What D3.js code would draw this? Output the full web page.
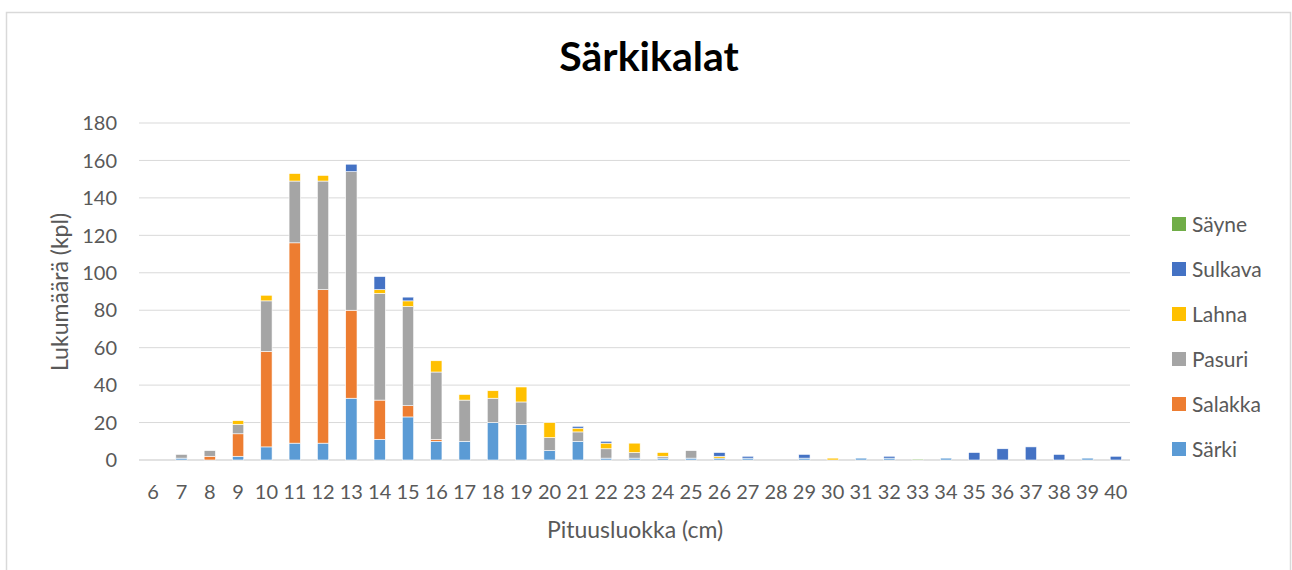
<!DOCTYPE html>
<html>
<head>
<meta charset="utf-8">
<script src="https://cdn.jsdelivr.net/npm/d3@7"></script>
<style>
  body { margin: 0; background: #fff; }
  text { font-family: Lato, "Open Sans", sans-serif; }
</style>
</head>
<body>
<svg id="chart" width="1292" height="570"></svg>
<script>
// length classes (cm)
var classes = d3.range(6, 41);
var seriesNames = ["Särki", "Salakka", "Pasuri", "Lahna", "Sulkava", "Säyne"];
var seriesColors = ["#5B9BD5", "#ED7D31", "#A5A5A5", "#FFC000", "#4472C4", "#70AD47"];

//            6  7  8  9  10  11  12  13  14  15  16  17  18  19  20  21 22 23 24 25 26 27 28 29 30 31 32 33 34 35 36 37 38 39 40
var sarki   = [0, 1, 0, 2, 7,  9,  9,  33, 11, 23, 10, 10, 20, 19, 5,  10, 1, 1, 1, 1, 1, 1, 0, 1, 0, 1, 1, 0, 1, 0, 0, 0, 0, 1, 0];
var salakka = [0, 0, 2, 12, 51, 107, 82, 47, 21, 6, 1, 0,  0,  0,  0,  0,  0, 0, 0, 0, 0, 0, 0, 0, 0, 0, 0, 0, 0, 0, 0, 0, 0, 0, 0];
var pasuri  = [0, 2, 3, 5, 27, 33, 58, 74, 57, 53, 36, 22, 13, 12, 7,  5,  5, 3, 1, 4, 0, 0, 0, 0, 0, 0, 0, 0, 0, 0, 0, 0, 0, 0, 0];
var lahna   = [0, 0, 0, 2, 3,  4,  3,  0,  2,  3,  6,  3,  4,  8,  8,  2,  3, 5, 2, 0, 1, 0, 0, 0, 1, 0, 0, 0, 0, 0, 0, 0, 0, 0, 0];
var sulkava = [0, 0, 0, 0, 0,  0,  0,  4,  7,  2,  0,  0,  0,  0,  0,  1,  1, 0, 0, 0, 2, 1, 0, 2, 0, 0, 1, 0, 0, 4, 6, 7, 3, 0, 2];
var sayne   = [0, 0, 0, 0, 0,  0,  0,  0,  0,  0,  0,  0,  0,  0,  0,  0,  0, 0, 0, 0, 0, 0, 0, 0, 0, 0, 0, 0.5, 0, 0, 0, 0, 0, 0, 0];
var yTicks = [0, 20, 40, 60, 80, 100, 120, 140, 160, 180];

var values = [sarki, salakka, pasuri, lahna, sulkava, sayne];
var rows = classes.map(function (c, i) {
  var r = { cls: c };
  seriesNames.forEach(function (s, k) { r[s] = values[k][i]; });
  return r;
});

var svg = d3.select("#chart");
var plotL = 139, plotR = 1130, plotT = 123, plotB = 460;

// chart frame
svg.append("rect")
  .attr("x", 6.5).attr("y", 12.5)
  .attr("width", 1284).attr("height", 600)
  .attr("fill", "#fff")
  .attr("stroke", "#d9d9d9").attr("stroke-width", 1.5);

var x = d3.scaleBand().domain(classes).range([plotL, plotR]).padding(0);
var y = d3.scaleLinear().domain([0, 180]).range([plotB, plotT]);
var barW = x.bandwidth() * 0.4;

// gridlines
svg.append("g")
  .selectAll("line")
  .data(yTicks)
  .enter()
  .append("line")
  .attr("x1", plotL).attr("x2", plotR)
  .attr("y1", function (d) { return y(d); })
  .attr("y2", function (d) { return y(d); })
  .attr("stroke", "#d9d9d9")
  .attr("stroke-width", function (d) { return d === 0 ? 1.5 : 1; });

// y tick labels
svg.append("g")
  .selectAll("text")
  .data(yTicks)
  .enter()
  .append("text")
  .attr("x", 117)
  .attr("y", function (d) { return y(d); })
  .attr("dy", "0.36em")
  .attr("text-anchor", "end")
  .attr("fill", "#595959")
  .style("font-size", "20px")
  .text(function (d) { return d; });

// x tick labels
svg.append("g")
  .selectAll("text")
  .data(classes)
  .enter()
  .append("text")
  .attr("x", function (d) { return x(d) + x.bandwidth() / 2; })
  .attr("y", 499)
  .attr("text-anchor", "middle")
  .attr("fill", "#595959")
  .style("font-size", "20px")
  .text(function (d) { return d; });

// stacked bars
var stack = d3.stack().keys(seriesNames)(rows);
svg.append("g")
  .selectAll("g")
  .data(stack)
  .enter()
  .append("g")
  .attr("fill", function (d, i) { return seriesColors[i]; })
  .selectAll("rect")
  .data(function (d) { return d.filter(function (p) { return p[1] > p[0]; }); })
  .enter()
  .append("rect")
  .attr("x", function (d) { return x(d.data.cls) + (x.bandwidth() - barW) / 2; })
  .attr("width", barW)
  .attr("y", function (d) { return y(d[1]); })
  .attr("height", function (d) { return y(d[0]) - y(d[1]); })
  .attr("stroke", "#fff")
  .attr("stroke-width", 0.6);

// title
svg.append("text")
  .attr("x", 649).attr("y", 71)
  .attr("text-anchor", "middle")
  .attr("fill", "#000")
  .style("font-size", "41px")
  .style("font-weight", "bold")
  .text("Särkikalat");

// axis titles
svg.append("text")
  .attr("x", 635).attr("y", 538)
  .attr("text-anchor", "middle")
  .attr("fill", "#595959")
  .style("font-size", "23px")
  .text("Pituusluokka (cm)");

svg.append("text")
  .attr("transform", "translate(68,292) rotate(-90)")
  .attr("text-anchor", "middle")
  .attr("fill", "#595959")
  .style("font-size", "23px")
  .text("Lukumäärä (kpl)");

// legend (top-down reversed)
var legend = svg.append("g")
  .selectAll("g")
  .data(seriesNames.slice().reverse())
  .enter()
  .append("g")
  .attr("transform", function (d, i) { return "translate(1172," + (224 + i * 45) + ")"; });

legend.append("rect")
  .attr("x", 0).attr("y", -7)
  .attr("width", 14).attr("height", 14)
  .attr("fill", function (d) { return seriesColors[seriesNames.indexOf(d)]; });

legend.append("text")
  .attr("x", 20).attr("y", 0)
  .attr("dy", "0.36em")
  .attr("fill", "#595959")
  .style("font-size", "21px")
  .text(function (d) { return d; });
</script>
</body>
</html>
